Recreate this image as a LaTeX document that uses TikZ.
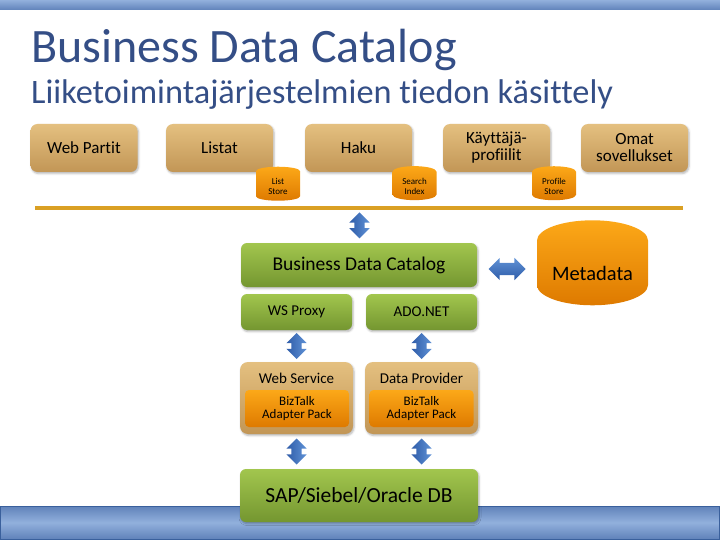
\documentclass[tikz,border=0pt]{standalone}
\usepackage{fontspec}
\setmainfont{Carlito}[Ligatures=CommonOff]
\usepackage{tikz}
\usetikzlibrary{shapes.geometric, shapes.arrows, arrows.meta, positioning, calc, shadows.blur}

\definecolor{titleblue}{RGB}{52,78,134}
\definecolor{tanTop}{RGB}{228,192,128}
\definecolor{tanBot}{RGB}{194,150,86}
\definecolor{grnTop}{RGB}{162,198,78}
\definecolor{grnBot}{RGB}{116,150,48}
\definecolor{orgTop}{RGB}{252,168,24}
\definecolor{orgBot}{RGB}{222,122,0}
\definecolor{busline}{RGB}{218,160,36}
\definecolor{arrDark}{RGB}{46,92,168}
\definecolor{arrLight}{RGB}{96,146,214}
\definecolor{barDark}{RGB}{96,130,186}
\definecolor{barLight}{RGB}{146,176,220}
\definecolor{barEdge}{RGB}{58,96,156}

\begin{document}
\begin{tikzpicture}[x=1pt, y=-1pt,
    app/.style={rounded corners=7pt, top color=tanTop, bottom color=tanBot, minimum width=107pt, minimum height=48pt, align=center, inner sep=1pt,
        font=\fontsize{17}{17}\selectfont, blur shadow={shadow xshift=1pt, shadow yshift=-1.5pt, shadow blur radius=2pt, shadow opacity=30}},
    store/.style={cylinder, shape border rotate=90, aspect=0.45, top color=orgTop, bottom color=orgBot, minimum width=44pt, minimum height=34pt,
        inner sep=0, align=center, font=\fontsize{9}{10}\selectfont},
    layer/.style={rounded corners=6pt, top color=grnTop, bottom color=grnBot, align=center, inner sep=1pt,
        blur shadow={shadow xshift=1pt, shadow yshift=-1.5pt, shadow blur radius=2pt, shadow opacity=30}},
    adapter/.style={rounded corners=8pt, top color=tanTop, bottom color=tanBot, minimum width=113pt, minimum height=72pt,
        blur shadow={shadow xshift=1pt, shadow yshift=-1.5pt, shadow blur radius=2pt, shadow opacity=30}},
    biztalk/.style={rounded corners=4pt, top color=orgTop, bottom color=orgBot, minimum width=104pt, minimum height=37pt,
        align=center, inner sep=0, font=\fontsize{13}{12.5}\selectfont},
    varrow/.style={double arrow, shape border rotate=90, minimum height=26pt, inner sep=5pt,
        double arrow head extend=5pt, left color=arrDark, right color=arrLight},
    harrow/.style={double arrow, minimum height=37pt, inner sep=6pt,
        double arrow head extend=5pt, top color=arrLight, bottom color=arrDark},
]
    \useasboundingbox (0,0) rectangle (720,540);

    % Bars
    \shade[top color=barLight, bottom color=barDark] (0,0) rectangle (720,10);
    \shade[top color=barDark, bottom color=barDark, middle color=barLight] (0,506) rectangle (720,539);
    \draw[barEdge, line width=1pt] (0.5,506) rectangle (719.5,539);

    % Title
    \node[anchor=base west, inner sep=0, titleblue, font=\fontsize{48}{48}\selectfont] (title) at (31,63) {Business Data Catalog};
    \node[anchor=base west, inner sep=0, titleblue, font=\fontsize{34.3}{34.3}\selectfont] (subtitle) at (31,104) {Liiketoimintajärjestelmien tiedon käsittely};

    % Portal parts
    \node[app] (web) at (84,148) {Web Partit};
    \node[app] (list) at (219.5,148) {Listat};
    \node[app] (haku) at (358.5,148) {Haku};
    \node[app] (prof) at (496.5,148) {Käyttäjä-\\profiilit};
    \node[app] (omat) at (634.5,148) {Omat\\sovellukset};

    % Stores
    \node[store] (lstore) at (278,186) {List\\Store};
    \node[store] (sindex) at (414.5,186) {Search\\Index};
    \node[store] (pstore) at (554,186) {Profile\\Store};

    \draw[busline, line width=4pt] (35,208) -- (683,208);
    \coordinate (bus) at (360,208);

    % BDC
    \node[layer, minimum width=236pt, minimum height=44pt, font=\fontsize{19.5}{19.5}\selectfont] (bdc) at (359,265) {Business Data Catalog};
    \node[layer, minimum width=111pt, minimum height=36pt, font=\fontsize{15}{15}\selectfont] (wsp) at (296.5,312) {WS Proxy};
    \node[layer, minimum width=111pt, minimum height=36pt, font=\fontsize{15}{15}\selectfont] (ado) at (421.5,312) {ADO.NET};
    \node[store, aspect=0.5, minimum width=111pt, minimum height=85pt, font=\fontsize{20.5}{20.5}\selectfont] (meta) at (592.5,273) {Metadata};

    % Adapters
    \node[adapter] (ws) at (296.5,398) {};
    \node[font=\fontsize{15}{15}\selectfont] (wst) at (296.5,378) {Web Service};
    \node[biztalk] (wsbt) at (297,408.5) {BizTalk\\Adapter Pack};
    \node[adapter] (dp) at (421.5,398) {};
    \node[font=\fontsize{15}{15}\selectfont] (dpt) at (421.5,378) {Data Provider};
    \node[biztalk] (dpbt) at (421.5,408.5) {BizTalk\\Adapter Pack};

    \node[layer, minimum width=238pt, minimum height=53pt, font=\fontsize{21.5}{21.5}\selectfont] (sap) at (359,495.5) {SAP/Siebel/Oracle DB};

    % Arrows
    \path (bus) -- node[varrow] {} (bdc.north);
    \path (bdc.east) -- node[harrow] {} (meta.west);
    \path (wsp.south) -- node[varrow] {} (ws.north);
    \path (ado.south) -- node[varrow] {} (dp.north);
    \path (ws.south) -- node[varrow] {} (sap.north -| ws.south);
    \path (dp.south) -- node[varrow] {} (sap.north -| dp.south);
\end{tikzpicture}
\end{document}
